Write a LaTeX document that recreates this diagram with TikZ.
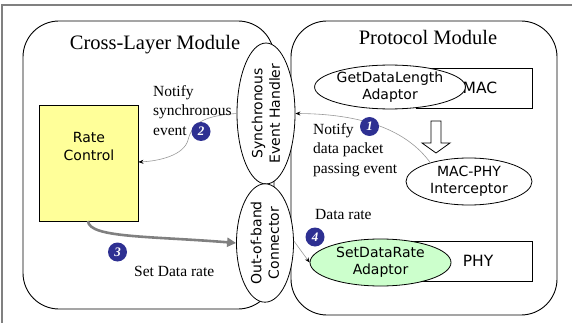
\documentclass[tikz,border=0pt]{standalone}
\usepackage{fontspec}
\setmainfont{Liberation Serif}
\newfontfamily\sansf{DejaVu Sans}
\usetikzlibrary{shapes.geometric,arrows.meta}
\definecolor{rcyellow}{HTML}{FFFF99}
\definecolor{sdrgreen}{HTML}{CCFFCC}
\definecolor{badgeblue}{HTML}{2E3092}
\definecolor{framegray}{HTML}{808080}
\definecolor{thingray}{HTML}{999999}
\begin{document}
\begin{tikzpicture}[x=1pt,y=-1pt,
  module/.style={draw, rounded corners=36pt, line width=0.9pt},
  titletext/.style={font=\fontsize{20.5}{24}\selectfont, inner sep=0, anchor=base},
  sanslbl/.style={font=\sansf\fontsize{14}{17.5}\selectfont, align=center, inner sep=0},
  oval/.style={ellipse, draw, fill=white, line width=0.8pt, inner sep=0, sanslbl},
  boxnode/.style={draw, line width=0.8pt, inner sep=0, sanslbl, font=\sansf\fontsize{15.5}{18}\selectfont},
  badge/.style={circle, fill=badgeblue, text=white, minimum size=19pt, inner sep=0,
    font=\bfseries\itshape\fontsize{13}{13}\selectfont},
  note/.style={font=\fontsize{15.5}{19.3}\selectfont, align=left, inner sep=0},
  thinarr/.style={draw=thingray, line width=0.6pt, -{Stealth[black,length=5pt,width=4pt]}},
  thickarr/.style={draw=framegray, line width=2.6pt, -{Triangle[framegray,length=9pt,width=9pt]}},
]
\useasboundingbox (0,0) rectangle (572,323);
% outer frame (top and left only)
\draw[framegray, line width=1.2pt] (2,323) -- (2,5) -- (572,5);
% modules
\draw[module] (23,21) rectangle (274,309);
\draw[module] (291,21) rectangle (557,315);
\node[titletext] (cltitle) at (155,49.5) {Cross-Layer Module};
\node[titletext] (pmtitle) at (428,45) {Protocol Module};
% rate control
\node[draw, line width=0.8pt, fill=rcyellow, minimum width=99pt, minimum height=116pt, inner sep=0] (rc) at (88.5,163) {};
\node[sanslbl] (rctext) at (89,146.5) {Rate\\Control};
% protocol boxes
\node[boxnode, minimum width=116pt, minimum height=40pt] (mac) at (474,88) {\hspace*{12pt}MAC};
\node[boxnode, minimum width=142pt, minimum height=40pt] (phy) at (461,261) {\hspace*{34pt}PHY};
\node[oval, minimum width=136pt, minimum height=38pt] (gdl) at (390,87) {GetDataLength\\Adaptor};
\node[oval, fill=sdrgreen, minimum width=141pt, minimum height=47pt] (sdr) at (380.5,262.5) {SetDataRate\\Adaptor};
\node[oval, minimum width=126pt, minimum height=47pt] (mpi) at (469,181.5) {MAC-PHY\\Interceptor};
% block arrow MAC -> interceptor
\draw[line width=0.8pt, fill=white] (431,121) -- (441,121) -- (441,143) -- (450,143) -- (436,153) -- (422,143) -- (431,143) -- cycle;
% cross-layer ellipses
\node[oval, rotate=90, minimum width=123pt, minimum height=58pt] (seh) at (266,113.5) {Synchronous\\Event Handler};
\node[oval, rotate=90, minimum width=110pt, minimum height=57pt] (oob) at (265,243) {Out-of-band\\Connector};
% connectors
\draw[thinarr] (mpi.154) .. controls (410,135) and (372,114) .. (seh.south);
\draw[thinarr] (seh.north) .. controls (200,116) and (192,125) .. (188,140) .. controls (184,155) and (160,161) .. (rc.east |- 0,162);
\draw[thickarr] (88,221) .. controls (89,238) and (150,236) .. (oob.north);
\draw[thinarr] (oob.south) ++(0,-2) -- (sdr.west);
% badges
\node[badge] (b1) at (369.5,126.5) {1};
\node[badge] (b2) at (201,131.5) {2};
\node[badge] (b3) at (117.5,252) {3};
\node[badge] (b4) at (315,237) {4};
% notes
\node[note, anchor=north west] (n2) at (153,85.4) {Notify\\synchronous\\event};
\node[note, anchor=north west] (n1) at (313,123.4) {Notify\\data packet\\passing event};
\node[note, anchor=base west] (n4) at (315,219) {Data rate};
\node[note, anchor=base west] (n3) at (134,276) {Set Data rate};
\end{tikzpicture}
\end{document}
